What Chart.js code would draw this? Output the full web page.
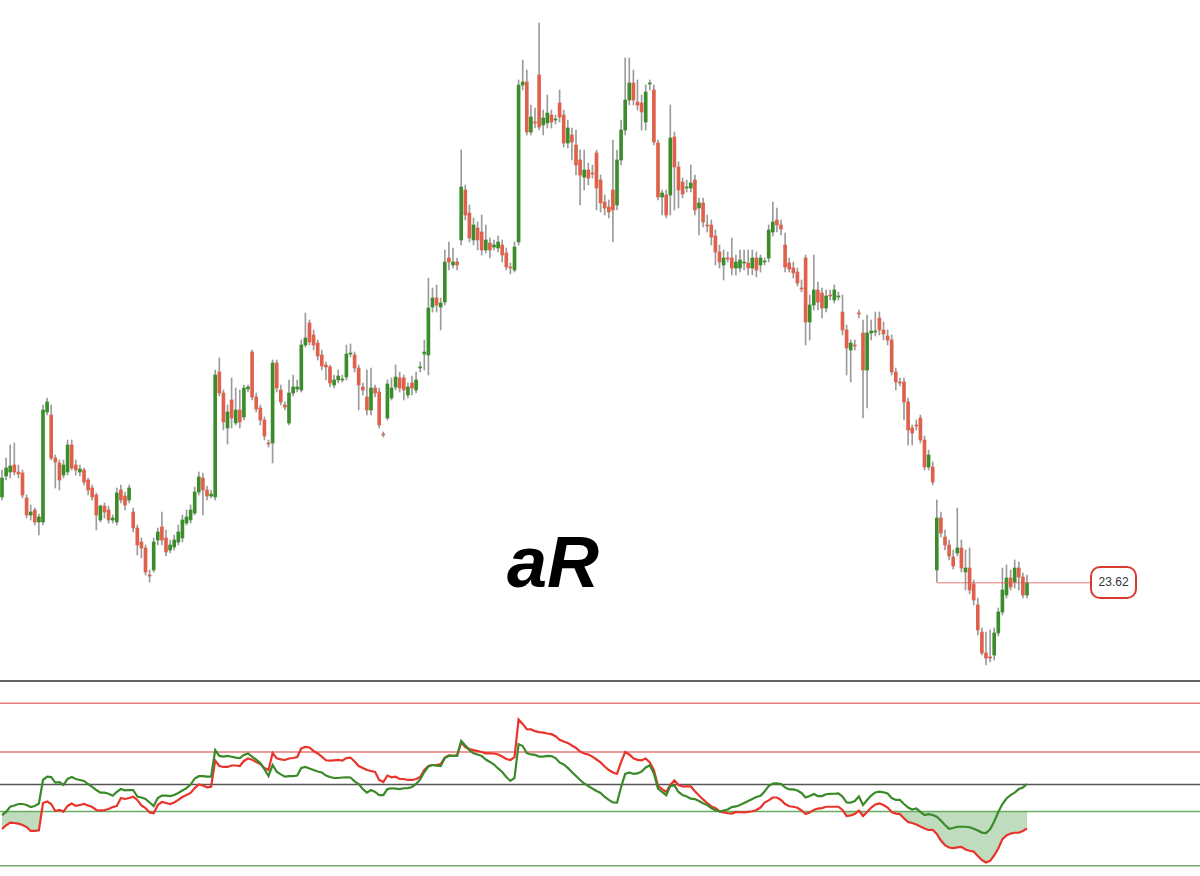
<!DOCTYPE html>
<html><head><meta charset="utf-8">
<script src="https://cdn.jsdelivr.net/npm/chart.js@4.4.1/dist/chart.umd.min.js"></script>
<style>
html,body{margin:0;padding:0;background:#fff;width:1200px;height:876px;overflow:hidden;}
#wrap{position:relative;width:1200px;height:876px;}
#main{position:absolute;left:0;top:0;}
#ind{position:absolute;left:0;top:680px;}
#title{position:absolute;left:507px;top:526px;font-family:"Liberation Sans",Arial,sans-serif;font-weight:bold;font-style:italic;font-size:72px;color:#000;line-height:1;white-space:nowrap;}
#priceTag{position:absolute;width:43px;height:29px;border:2.5px solid #d83a30;border-radius:10px;background:#fff;font:12px "Liberation Sans",Arial,sans-serif;color:#333;text-align:center;line-height:29px;}
</style></head>
<body><div id="wrap">
<canvas id="main" width="1200" height="680"></canvas>
<canvas id="ind" width="1200" height="196"></canvas>
<div id="title">aR</div>
<div id="priceTag">23.62</div>
</div>
<script>
const opens = [
32.2,34.3,34.7,35.4,34.7,34.6,32.1,30.4,30.9,29.7,
29.7,40.7,40.4,36.1,35.6,34.4,34.7,37.4,35.4,34.7,
34.9,33.9,33.1,32.4,29.9,31.3,30.9,29.9,29.7,32.9,
32.3,31.9,30.7,29.1,27.7,27.1,24.4,24.9,27.9,29.2,
28.1,26.9,27.2,27.7,28.1,29.6,29.9,30.6,32.7,34.1,
32.9,32.3,32.2,44.7,42.6,39.1,41.9,39.6,40.9,40.2,
43.0,46.7,42.2,41.1,39.9,37.6,37.6,45.6,42.9,41.4,
39.6,42.6,43.0,42.9,47.4,49.6,48.4,47.6,46.4,45.4,
45.2,43.4,43.9,43.9,44.2,46.5,46.4,45.1,43.2,42.2,
40.9,43.1,42.7,38.5,40.1,42.1,43.2,44.1,44.1,42.4,
43.6,42.9,45.1,46.5,46.4,51.2,52.1,51.2,51.7,56.1,
55.4,55.7,57.9,62.9,60.6,57.9,59.1,58.7,56.9,57.6,
57.2,57.1,57.4,56.6,55.2,54.9,57.7,73.4,73.7,68.7,
69.7,74.4,69.4,69.6,70.4,69.9,71.6,70.4,67.6,68.4,
67.4,65.9,64.2,64.9,64.6,66.6,63.9,61.7,61.2,62.9,
61.4,65.9,68.9,71.9,73.6,71.7,71.6,69.7,73.5,72.9,
67.6,62.2,62.4,62.4,68.2,65.2,63.7,63.1,63.1,63.9,
61.1,61.6,59.4,59.4,58.3,56.7,55.4,56.1,56.1,55.1,
55.1,55.6,55.6,55.1,56.1,55.4,55.7,56.1,58.7,59.9,
59.4,57.4,55.6,55.1,54.7,53.1,56.1,49.7,51.4,52.9,
52.6,51.1,52.4,51.9,52.2,50.7,48.9,46.9,47.4,50.6,
48.6,44.9,48.6,48.7,50.1,48.9,48.3,47.9,44.7,43.7,
43.7,41.7,39.1,39.4,40.1,37.9,35.2,35.2,24.9,30.1,
28.2,27.4,26.2,26.6,27.1,24.7,25.1,23.5,21.4,18.7,
16.6,16.2,16.4,18.6,20.7,22.4,24.1,23.7,25.1,24.2,
22.4];
const closes = [
34.1,35.1,35.3,34.7,34.5,32.4,30.4,30.7,29.7,30.2,
40.9,41.7,36.1,35.7,33.9,35.4,37.4,35.1,34.9,35.0,
33.7,32.9,32.2,30.4,31.3,30.7,29.9,30.1,32.6,31.9,
31.4,33.1,29.1,27.4,27.1,24.7,24.3,27.7,28.7,27.9,
26.7,27.4,27.9,28.7,29.9,30.2,30.9,32.7,34.2,32.9,
32.3,32.5,44.4,42.6,39.7,40.7,40.1,40.9,39.7,43.1,
43.2,42.2,41.0,39.9,38.3,37.5,45.6,43.1,41.7,41.2,
42.6,43.2,43.2,47.4,48.1,47.7,47.4,46.3,45.3,45.2,
43.6,43.9,44.3,44.0,46.5,46.6,45.1,43.4,42.9,40.9,
43.1,42.6,39.4,38.4,43.5,43.1,44.2,43.1,42.9,43.2,
43.1,43.9,45.2,46.7,51.1,52.1,51.4,51.6,55.7,55.7,
55.7,55.4,63.2,60.4,58.1,59.4,57.9,56.9,57.9,56.9,
57.4,57.7,56.4,55.2,55.1,57.2,73.4,73.7,68.7,70.2,
69.6,69.2,70.1,70.6,69.7,70.0,70.2,67.6,69.1,67.7,
65.4,64.4,64.9,64.1,64.5,63.1,61.6,61.1,60.7,60.9,
65.9,68.9,71.9,73.6,71.9,71.4,70.7,72.7,73.6,67.7,
62.2,62.6,60.4,68.1,65.2,62.9,62.5,63.2,63.6,60.9,
61.6,59.7,59.3,58.2,56.7,55.7,56.1,56.0,55.1,55.7,
55.9,55.7,55.1,56.1,54.9,56.1,55.8,58.9,59.7,59.4,
59.0,55.2,55.0,54.6,53.6,53.0,49.7,51.4,52.9,51.7,
51.1,52.3,52.3,52.9,52.3,48.9,47.1,47.6,47.3,50.5,
44.9,48.6,48.8,48.8,48.9,48.5,47.9,44.7,43.7,43.6,
41.7,38.9,38.6,39.3,37.9,35.2,36.4,33.7,30.1,28.6,
27.4,26.3,25.3,27.1,25.1,25.1,22.9,21.9,18.9,16.6,
16.1,16.1,18.6,20.7,22.9,24.1,23.2,25.1,24.2,22.4,
23.62];
const highs = [
34.9,36.1,37.4,37.6,35.4,34.9,32.4,31.4,31.1,30.5,
41.4,42.1,41.4,36.4,35.9,35.9,37.9,37.9,35.9,35.4,
35.1,34.1,33.4,32.6,31.4,31.6,31.3,30.4,33.1,33.4,
32.7,33.4,31.1,29.4,28.1,27.4,24.9,28.1,29.1,30.7,
28.9,27.9,28.4,29.4,30.4,30.9,31.4,33.2,34.7,34.6,
33.3,32.9,44.9,46.1,42.9,41.4,44.1,43.1,42.9,43.4,
43.4,46.9,42.6,41.4,40.2,37.9,45.9,45.9,43.4,41.7,
43.9,44.4,43.9,47.9,50.6,49.9,48.9,47.9,46.9,45.7,
45.4,44.4,44.9,44.4,47.4,47.5,46.7,45.4,43.6,44.9,
45.1,43.4,43.1,38.7,43.9,44.1,45.4,44.7,44.4,43.6,
44.3,44.7,45.7,47.9,54.1,53.1,53.4,52.1,56.9,57.7,
57.1,56.1,66.9,63.4,61.4,60.1,59.7,60.4,59.4,58.1,
57.9,58.3,57.9,57.1,55.6,57.7,73.9,75.9,74.9,71.4,
71.1,79.6,70.9,72.4,70.9,70.4,72.9,70.9,69.9,69.1,
68.9,66.9,66.9,65.6,65.4,66.9,64.4,62.4,61.9,67.9,
66.9,69.9,76.1,76.1,74.9,73.9,72.4,73.4,73.9,73.4,
67.9,62.9,62.9,71.4,68.7,65.7,64.1,63.9,65.4,64.4,
62.1,62.1,60.4,59.9,58.9,57.4,56.9,56.7,58.1,56.4,
56.9,56.9,56.9,56.9,56.7,56.4,56.1,59.4,61.7,61.1,
59.9,58.6,56.1,55.7,55.1,53.9,56.4,52.4,56.4,53.7,
53.1,52.9,52.9,53.4,52.7,52.4,49.4,47.9,47.9,50.9,
49.9,50.4,49.9,50.7,50.7,49.7,48.9,48.4,45.1,44.1,
44.1,42.1,39.4,39.9,40.4,38.3,36.9,35.7,31.9,30.7,
28.9,27.9,26.9,31.1,27.9,26.9,27.1,23.9,22.1,19.1,
18.7,18.9,19.1,21.1,25.1,25.4,24.9,25.9,25.7,24.6,
24.4];
const lows = [
31.9,33.9,34.1,34.4,34.1,32.1,30.1,29.9,29.4,28.4,
29.4,40.4,35.9,33.1,32.9,34.1,34.4,34.9,34.4,34.3,
33.4,32.4,31.9,28.9,29.7,30.1,29.6,29.6,29.4,31.6,
30.9,31.6,28.7,26.4,26.1,24.4,23.7,24.7,27.4,27.4,
26.3,26.6,26.9,27.4,27.7,29.4,29.6,30.4,32.4,30.4,
31.9,32.1,31.9,42.3,38.9,37.5,39.1,39.4,39.1,39.9,
42.7,41.9,40.7,39.4,37.9,37.2,35.6,42.7,41.4,40.9,
39.4,42.3,42.7,42.7,47.2,47.4,46.9,45.9,44.9,43.9,
43.2,43.1,43.6,43.7,43.9,46.2,44.7,40.9,42.4,40.4,
40.4,42.2,39.1,38.2,39.9,41.9,42.9,42.7,41.9,42.1,
42.4,42.6,44.7,44.9,44.4,50.7,50.7,48.9,51.4,54.9,
55.1,54.9,57.4,59.9,57.7,57.4,56.9,56.4,56.6,56.1,
56.9,56.7,55.7,54.9,54.5,54.7,57.4,72.9,68.4,68.4,
69.1,68.9,68.4,69.1,69.1,69.5,69.7,67.2,67.1,65.9,
64.4,61.4,62.9,63.4,64.1,60.9,60.7,60.4,60.1,57.7,
60.9,65.4,68.4,71.4,71.4,70.9,68.9,68.9,72.9,67.4,
61.9,60.4,60.1,60.4,60.9,61.1,62.1,62.7,62.7,60.4,
58.4,59.2,58.7,57.4,55.4,55.1,53.9,55.7,54.4,54.4,
54.7,54.9,54.4,54.4,54.2,54.7,55.4,55.7,58.3,58.7,
58.4,54.7,54.7,54.1,53.3,52.7,47.4,47.9,50.9,50.9,
50.1,50.7,51.9,51.6,51.9,48.4,44.4,43.7,46.9,50.1,
40.1,41.1,47.9,48.3,48.4,47.9,47.4,44.4,42.9,43.3,
39.9,37.4,37.4,38.9,37.6,34.9,34.9,33.4,23.7,28.2,
26.9,25.9,25.0,26.3,24.7,22.9,22.5,21.4,18.4,16.4,
15.4,15.7,15.9,18.3,20.4,22.1,22.9,23.1,22.9,22.1,
22.1];
const greenLine = [
31.2,33.1,36.3,37.1,38.0,38.0,37.4,36.1,36.8,38.3,
52.8,54.9,54.6,51.2,51.5,49.7,53.4,54.6,53.4,52.8,
52.2,50.3,48.5,46.6,45.0,45.0,44.3,43.1,45.4,47.2,
46.4,46.6,46.6,42.6,42.0,41.1,38.9,36.8,41.7,43.2,
43.2,42.9,43.5,44.8,46.3,47.8,50.0,53.7,55.1,55.1,
54.8,54.8,71.2,67.6,67.2,67.6,67.1,66.6,66.3,68.2,
69.1,67.2,65.4,63.2,59.5,55.2,62.0,57.9,56.2,54.8,
55.2,55.2,55.5,60.2,60.8,59.9,58.9,58.0,57.4,55.5,
54.6,54.0,54.0,54.3,54.4,54.3,51.9,50.3,47.2,45.0,
46.6,45.4,43.5,43.5,47.2,47.7,47.5,47.2,47.7,47.8,
48.5,50.3,53.1,57.7,61.1,62.0,61.6,61.4,66.3,67.6,
67.6,67.6,76.8,74.0,71.2,69.2,68.5,67.6,65.4,63.9,
62.3,59.9,57.7,54.6,52.2,54.0,74.9,73.7,69.4,68.5,
68.2,67.2,67.2,67.6,67.5,66.3,63.6,62.3,60.2,57.7,
55.2,52.8,50.6,49.1,47.5,46.0,44.8,42.3,40.5,38.9,
38.8,48.5,56.5,57.4,56.5,56.8,58.0,60.5,61.9,56.8,
47.5,45.4,43.4,49.1,49.4,45.4,43.5,42.6,41.3,41.0,
39.8,38.5,37.3,35.5,34.1,33.4,34.0,34.6,36.1,36.5,
37.4,38.6,39.8,41.1,42.3,43.1,45.7,49.1,50.6,50.7,
50.3,48.2,47.0,47.0,46.3,44.8,42.0,42.9,44.2,42.9,
42.9,44.0,44.2,44.3,44.5,42.6,38.9,38.8,39.8,42.6,
37.4,40.5,43.2,45.1,45.6,45.2,44.5,41.7,40.5,40.5,
38.0,35.8,34.6,35.2,33.1,31.2,31.7,31.2,30.2,27.8,
25.1,22.7,23.2,24.0,24.0,24.0,23.7,22.7,21.7,20.4,
20.1,22.4,27.2,33.1,38.0,41.4,43.5,45.0,47.2,48.2,
50.3];
const redLine = [
22.6,24.8,26.5,26.3,25.9,25.1,23.8,21.4,21.4,21.8,
38.6,39.5,38.0,33.7,34.3,33.3,36.8,38.3,36.8,37.4,
38.0,37.1,36.1,34.3,33.9,34.3,34.9,36.1,36.8,41.7,
41.1,41.7,42.5,40.5,37.1,35.5,32.8,32.3,37.4,39.2,
38.6,38.0,38.9,40.5,42.3,43.5,44.8,47.8,50.0,49.4,
48.3,48.6,64.8,61.4,60.8,60.8,61.7,61.7,61.4,64.5,
66.0,65.3,63.9,62.6,60.2,58.9,69.4,66.1,65.5,65.1,
66.0,66.3,66.9,72.2,73.1,72.8,70.6,69.1,67.2,64.9,
64.7,64.9,65.1,64.7,66.3,66.6,64.2,61.4,60.2,58.9,
58.3,57.7,52.8,51.5,55.5,54.4,54.8,53.4,53.4,52.8,
52.8,53.4,54.6,58.9,61.4,62.0,62.0,62.6,66.6,67.9,
67.6,67.9,75.9,73.1,71.9,71.2,70.6,70.0,69.2,69.2,
69.1,68.5,67.2,65.7,65.1,66.9,90.0,87.3,84.0,83.9,
82.9,82.3,81.9,81.4,81.0,79.7,77.5,76.5,75.6,74.0,
72.5,70.3,69.1,68.5,67.2,65.4,63.6,61.1,58.9,57.4,
56.5,63.9,70.0,68.5,66.1,65.2,64.9,66.0,63.6,58.9,
49.1,47.2,45.4,49.7,52.5,49.7,48.8,48.9,48.8,45.9,
43.2,40.8,38.6,36.5,35.5,33.4,32.8,32.3,32.1,33.1,
32.9,32.8,33.1,33.5,34.3,35.8,38.9,40.2,42.0,42.0,
40.5,38.0,36.6,36.3,35.7,34.0,31.8,32.8,34.3,35.2,
35.5,36.3,36.3,36.3,36.3,34.3,30.6,30.9,31.8,34.0,
30.6,33.1,35.8,37.7,38.3,37.4,35.8,33.1,32.1,31.8,
29.1,26.9,26.3,25.4,24.1,22.9,22.0,22.1,19.5,15.5,
12.7,11.2,10.8,11.3,11.6,10.0,9.2,8.7,6.0,3.5,
2.0,3.0,6.3,10.6,16.4,18.6,19.8,20.3,20.4,21.4,
22.9];
// indicator reference levels and their colours
const levelValues = [113.7, 100, 70, 50, 33.3, 0];
const levelColors = ['#333333','rgba(228,105,105,0.9)','rgba(228,105,105,0.9)','#555555','rgba(95,165,85,0.9)','rgba(95,165,85,0.9)'];
const fillLevel = 33.3;
const lastPrice = 23.62;
const priceLineFrom = 228;
const priceLineTo = 265.4;

const N = Math.min(opens.length, closes.length, highs.length, lows.length, greenLine.length, redLine.length);
const idx = Array.from({length: N}, (_, i) => i);
const XMIN = -0.4878, XMAX = 292.195;
const UP = '#3b8c2a', DOWN = '#df604b', WICK = '#9b9b9b';

const tagPlugin = {
  id: 'tag',
  afterDraw(chart) {
    const el = document.getElementById('priceTag');
    const x = chart.scales.x.getPixelForValue(priceLineTo);
    const y = chart.scales.y.getPixelForValue(lastPrice);
    el.style.left = x + 'px';
    el.style.top = (y - 17) + 'px';
    el.textContent = lastPrice.toFixed(2);
  }
};

new Chart(document.getElementById('main'), {
  type: 'bar',
  data: {
    datasets: [
      { type: 'line', data: [{x: priceLineFrom, y: lastPrice}, {x: priceLineTo, y: lastPrice}],
        borderColor: 'rgba(226,95,95,0.85)', borderWidth: 1, pointRadius: 0, fill: false, order: 0 },
      { label: 'body', data: idx.map(i => ({x: i, y: [opens[i], closes[i]]})),
        backgroundColor: idx.map(i => closes[i] >= opens[i] ? UP : DOWN),
        borderWidth: 0, barThickness: 3, minBarLength: 1, grouped: false, order: 1 },
      { label: 'wick', data: idx.map(i => ({x: i, y: [lows[i], highs[i]]})),
        backgroundColor: WICK, borderWidth: 0, barThickness: 1, grouped: false, order: 2 }
    ]
  },
  options: {
    responsive: false, animation: false, events: [],
    layout: { padding: 0 },
    plugins: { legend: { display: false }, tooltip: { enabled: false } },
    scales: {
      x: { type: 'linear', min: XMIN, max: XMAX, offset: false, bounds: 'data', display: false },
      y: { type: 'linear', min: 13.9, max: 81.9, beginAtZero: false, bounds: 'data', display: false }
    }
  },
  plugins: [tagPlugin]
});

const levelSets = levelValues.map((v, k) => ({
  data: [{x: XMIN, y: v}, {x: XMAX, y: v}],
  borderColor: levelColors[k], borderWidth: 1.5, pointRadius: 0, fill: false, order: 5
}));

new Chart(document.getElementById('ind'), {
  type: 'line',
  data: {
    datasets: [
      { data: idx.map(i => ({x: i, y: greenLine[i]})), borderColor: '#3a8a2a', borderWidth: 2.2,
        pointRadius: 0, fill: false, tension: 0, order: 0 },
      { data: idx.map(i => ({x: i, y: redLine[i]})), borderColor: '#e8342a', borderWidth: 2.2,
        pointRadius: 0, tension: 0, order: 1,
        fill: { target: { value: fillLevel }, above: 'rgba(0,0,0,0)', below: 'rgba(60,150,60,0.33)' } },
      ...levelSets
    ]
  },
  options: {
    responsive: false, animation: false, events: [],
    layout: { padding: 0 },
    plugins: { legend: { display: false }, tooltip: { enabled: false } },
    scales: {
      x: { type: 'linear', min: XMIN, max: XMAX, offset: false, bounds: 'data', display: false },
      y: { type: 'linear', min: -6.34, max: 114.35, bounds: 'data', display: false }
    }
  }
});
</script>
</body></html>
